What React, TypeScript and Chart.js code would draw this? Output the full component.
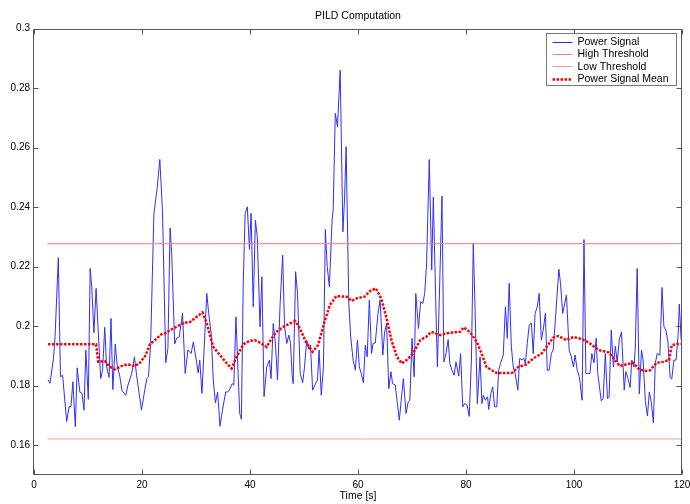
import { useEffect, useRef } from 'react';
import { Chart, registerables } from 'chart.js';

Chart.register(...registerables);

const powerTimes = [
  2.6, 2.96, 3.6, 3.9, 4.5, 4.9, 5.3, 6.05, 6.5, 6.85, 7.2, 7.65, 8.0, 8.5, 8.9, 9.26, 9.6, 10.06, 10.4, 10.7,
  11.1, 11.5, 11.85, 12.35, 12.7, 13.1, 13.45, 13.9, 14.26, 14.6, 15.05, 15.4, 15.9, 16.3, 17.0, 17.4, 18.1, 18.6, 19.0, 19.9,
  20.55, 20.9, 21.2, 21.6, 22.2, 22.8, 23.3, 23.8, 24.4, 24.8, 25.2, 25.5, 26.05, 26.4, 26.9, 27.5, 28.0, 28.5, 29.1, 29.5,
  30.1, 30.4, 30.7, 31.1, 32.0, 32.35, 32.8, 33.2, 33.6, 34.0, 34.45, 34.9, 35.5, 35.9, 36.3, 36.7, 37.0, 37.4, 37.8, 38.1,
  38.4, 38.75, 39.1, 39.5, 39.9, 40.2, 40.6, 41.0, 41.35, 41.85, 42.2, 42.6, 43.1, 43.6, 43.9, 44.3, 44.7, 45.1, 45.55, 46.05,
  46.4, 46.8, 47.2, 47.5, 47.8, 48.0, 48.45, 48.8, 49.3, 49.75, 50.1, 50.5, 50.9, 51.2, 51.6, 52.0, 52.5, 52.8, 53.2, 53.6,
  53.95, 54.3, 54.7, 55.2, 55.4, 55.8, 56.2, 56.7, 57.2, 57.5, 57.8, 58.3, 58.65, 59.1, 59.5, 59.9, 60.25, 60.6, 61.0, 61.35,
  61.7, 62.1, 62.5, 62.8, 63.2, 63.7, 64.1, 64.6, 64.9, 65.3, 65.7, 66.1, 66.4, 66.9, 67.3, 67.65, 68.0, 68.4, 68.9, 69.3,
  69.6, 70.0, 70.4, 70.7, 71.2, 71.6, 72.0, 72.35, 72.7, 73.2, 73.65, 73.95, 74.3, 74.7, 75.05, 75.55, 75.9, 76.3, 76.7, 77.0,
  77.4, 77.8, 78.15, 78.65, 79.0, 79.4, 79.75, 80.2, 80.6, 81.0, 81.35, 81.7, 82.1, 82.6, 82.95, 83.2, 83.6, 84.0, 84.2, 84.6,
  84.95, 85.3, 85.7, 86.05, 86.4, 86.9, 87.3, 87.65, 88.0, 88.4, 88.75, 89.1, 89.6, 89.95, 90.4, 90.7, 91.0, 91.35, 91.7, 92.1,
  92.45, 92.8, 93.2, 93.55, 93.95, 94.3, 94.7, 95.05, 95.4, 95.8, 96.15, 96.8, 97.2, 97.5, 97.9, 98.6, 99.1, 99.5, 99.9, 100.2,
  100.6, 101.0, 101.5, 101.85, 102.2, 102.6, 102.95, 103.3, 103.7, 104.1, 104.4, 105.05, 105.4, 105.8, 106.2, 106.5, 106.9, 107.3, 107.65, 108.0,
  108.4, 108.8, 109.3, 109.6, 110.0, 110.4, 110.7, 111.1, 111.35, 111.7, 112.1, 112.5, 112.8, 113.2, 113.6, 113.95, 114.3, 114.7, 115.05, 115.4,
  115.9, 116.3, 116.65, 117.0, 117.4, 117.8, 118.1, 118.5, 118.9, 119.3, 119.5, 119.85,
];

const powerValues = [
  0.182, 0.1808, 0.189, 0.1964, 0.223, 0.183, 0.1835, 0.168, 0.1729, 0.173, 0.1813, 0.1662, 0.186, 0.1778, 0.1774, 0.1718, 0.192, 0.1754, 0.2194, 0.2132,
  0.1978, 0.2127, 0.1998, 0.1824, 0.1852, 0.1996, 0.1863, 0.1828, 0.2026, 0.1787, 0.194, 0.1869, 0.183, 0.1783, 0.1768, 0.1802, 0.1841, 0.1897, 0.1835, 0.1718,
  0.179, 0.1824, 0.183, 0.1942, 0.2377, 0.2463, 0.256, 0.2384, 0.1877, 0.1925, 0.233, 0.2245, 0.194, 0.1959, 0.1964, 0.2043, 0.1841, 0.192, 0.1908, 0.1947,
  0.188, 0.1843, 0.1886, 0.1774, 0.211, 0.2043, 0.1976, 0.1819, 0.1742, 0.1779, 0.1664, 0.1718, 0.1779, 0.1779, 0.179, 0.1807, 0.1802, 0.2031, 0.1841, 0.1707,
  0.1687, 0.2144, 0.2379, 0.2401, 0.2258, 0.2379, 0.2065, 0.2356, 0.23, 0.1998, 0.2166, 0.1763, 0.1863, 0.1886, 0.1824, 0.2009, 0.1942, 0.1819, 0.2065, 0.2239,
  0.1998, 0.1942, 0.197, 0.1942, 0.1835, 0.1807, 0.2183, 0.211, 0.1841, 0.181, 0.1863, 0.1953, 0.1922, 0.1936, 0.1785, 0.1802, 0.1819, 0.192, 0.1768, 0.1863,
  0.2325, 0.22, 0.2132, 0.2356, 0.239, 0.2715, 0.267, 0.286, 0.2317, 0.2424, 0.2603, 0.2076, 0.1964, 0.1886, 0.1852, 0.1953, 0.1863, 0.1841, 0.181, 0.1936,
  0.1897, 0.2088, 0.1908, 0.1942, 0.1944, 0.2043, 0.2088, 0.1903, 0.1976, 0.2009, 0.179, 0.1847, 0.1807, 0.1802, 0.174, 0.1684, 0.1751, 0.1824, 0.1707, 0.1746,
  0.1751, 0.1959, 0.183, 0.211, 0.1992, 0.2082, 0.2076, 0.211, 0.2211, 0.256, 0.2189, 0.2433, 0.2155, 0.1863, 0.2088, 0.2437, 0.188, 0.1908, 0.1955, 0.1875,
  0.1852, 0.1835, 0.188, 0.1832, 0.1908, 0.1729, 0.174, 0.1735, 0.1697, 0.1886, 0.2278, 0.2043, 0.174, 0.1897, 0.174, 0.1768, 0.1751, 0.1763, 0.172, 0.1774,
  0.1796, 0.1729, 0.1729, 0.1852, 0.1875, 0.1903, 0.2065, 0.1959, 0.2144, 0.193, 0.1863, 0.1841, 0.1785, 0.1892, 0.1886, 0.1892, 0.1875, 0.1942, 0.2003, 0.2011,
  0.1908, 0.2043, 0.2065, 0.211, 0.1953, 0.1987, 0.2043, 0.1852, 0.1852, 0.1908, 0.192, 0.2088, 0.2191, 0.2144, 0.2043, 0.2105, 0.192, 0.1897, 0.1863, 0.1903,
  0.1852, 0.183, 0.1751, 0.2291, 0.1841, 0.1841, 0.1841, 0.1908, 0.1877, 0.1959, 0.1841, 0.1749, 0.1757, 0.1908, 0.1757, 0.1763, 0.1987, 0.1863, 0.1933, 0.188,
  0.1955, 0.1981, 0.1785, 0.1847, 0.1824, 0.1794, 0.1886, 0.1863, 0.193, 0.2194, 0.1772, 0.192, 0.1886, 0.1751, 0.1698, 0.1779, 0.1746, 0.1675, 0.1875, 0.1908,
  0.1903, 0.213, 0.1998, 0.1987, 0.1947, 0.1828, 0.1822, 0.1886, 0.1886, 0.1976, 0.2074, 0.1953,
];

const meanTimes = [
  2.6, 11.5, 11.9, 13.1, 14.1, 15.0, 16.2, 17.3, 18.7, 19.6, 20.6, 21.5, 22.4, 23.5, 24.3, 25.2, 25.8, 27.7, 28.9, 30.1,
  31.2, 32.0, 33.2, 34.7, 35.7, 36.6, 37.5, 38.8, 40.0, 40.9, 41.9, 43.1, 44.0, 44.9, 46.2, 47.4, 48.4, 49.3, 50.5, 51.6,
  52.6, 53.7, 54.8, 56.0, 57.9, 58.8, 60.0, 61.2, 62.3, 63.3, 64.3, 65.3, 66.2, 67.2, 68.1, 69.0, 70.2, 71.5, 72.6, 73.6,
  75.2, 77.0, 78.9, 79.6, 80.7, 82.0, 82.9, 83.8, 84.8, 85.7, 86.9, 88.5, 89.7, 91.2, 92.5, 94.0, 94.9, 96.2, 97.1, 98.6,
  99.9, 101.7, 102.95, 104.5, 106.4, 107.6, 108.5, 109.75, 111.0, 111.9, 113.1, 114.1, 115.3, 116.5, 117.6, 118.1, 119.0, 120.0,
];

const meanValues = [
  0.1939, 0.1939, 0.188, 0.1883, 0.1863, 0.1855, 0.1866, 0.1872, 0.1866, 0.1877, 0.19, 0.194, 0.1953, 0.1972, 0.1976, 0.1987, 0.1992, 0.2011, 0.2014, 0.2031,
  0.2046, 0.2009, 0.193, 0.1897, 0.1875, 0.1858, 0.1897, 0.194, 0.1951, 0.1953, 0.1944, 0.193, 0.1959, 0.1981, 0.1998, 0.2009, 0.2017, 0.1989, 0.1942, 0.1914,
  0.1936, 0.2009, 0.2071, 0.2101, 0.2099, 0.2085, 0.2095, 0.2099, 0.2119, 0.2127, 0.2093, 0.2026, 0.1953, 0.1897, 0.1875, 0.1886, 0.1908, 0.1953, 0.1964, 0.1981,
  0.197, 0.1978, 0.1981, 0.1996, 0.1981, 0.1947, 0.1908, 0.1863, 0.1852, 0.1843, 0.1843, 0.1843, 0.1863, 0.1872, 0.1892, 0.1908, 0.193, 0.1962, 0.1967, 0.1953,
  0.1964, 0.1955, 0.1942, 0.192, 0.1912, 0.1886, 0.1866, 0.1872, 0.1877, 0.1858, 0.1849, 0.1852, 0.1877, 0.188, 0.1886, 0.1936, 0.194, 0.194,
];

const thresholdTimes = [2.5, 120];
const highThresholdValue = 0.2277;
const lowThresholdValue = 0.1621;

const xTickValues = [0, 20, 40, 60, 80, 100, 120];
const xTickLabels = ['0', '20', '40', '60', '80', '100', '120'];
const yTickValues = [0.16, 0.18, 0.2, 0.22, 0.24, 0.26, 0.28, 0.3];
const yTickLabels = ['0.16', '0.18', '0.2', '0.22', '0.24', '0.26', '0.28', '0.3'];

const seriesLabels = ['Power Signal', 'High Threshold', 'Low Threshold', 'Power Signal Mean'];
const chartTitle = 'PILD Computation';
const xAxisTitle = 'Time [s]';

const FONT = "'Liberation Sans', Arial, Helvetica, sans-serif";
const COLORS = {
  power: '#2f2fff',
  high: '#ff7a7a',
  low: '#ff9a9a',
  mean: '#ff0000',
  frame: '#555555',
};

const framePlugin = {
  id: 'matlabFrame',
  afterDatasetsDraw(chart: any) {
    const { ctx, chartArea: a, scales } = chart;
    const L = Math.round(a.left) - 0.5;
    const R = Math.round(a.right) - 0.5;
    const T = Math.round(a.top) + 0.5;
    const B = Math.round(a.bottom) - 0.5;
    ctx.save();
    ctx.strokeStyle = COLORS.frame;
    ctx.lineWidth = 1;
    ctx.beginPath();
    ctx.rect(L, T, R - L, B - T);
    const tl = 5;
    for (const v of yTickValues) {
      const y = Math.round(scales.y.getPixelForValue(v)) + 0.5;
      ctx.moveTo(L, y);
      ctx.lineTo(L + tl, y);
      ctx.moveTo(R, y);
      ctx.lineTo(R - tl, y);
    }
    for (const v of xTickValues) {
      const x = Math.round(scales.x.getPixelForValue(v)) + 0.5;
      ctx.moveTo(x, T);
      ctx.lineTo(x, T + tl);
      ctx.moveTo(x, B);
      ctx.lineTo(x, B - tl);
    }
    ctx.stroke();
    ctx.restore();
  },
};

const legendPlugin = {
  id: 'matlabLegend',
  afterDraw(chart: any) {
    const { ctx, chartArea: a } = chart;
    const w = 130;
    const h = 52;
    const left = Math.round(a.right - 6 - w) + 0.5;
    const top = Math.round(a.top + 4) + 0.5;
    ctx.save();
    ctx.fillStyle = '#ffffff';
    ctx.fillRect(left, top, w, h);
    ctx.strokeStyle = '#777777';
    ctx.lineWidth = 1;
    ctx.strokeRect(left, top, w, h);
    ctx.font = `10.5px ${FONT}`;
    ctx.textBaseline = 'middle';
    ctx.textAlign = 'left';
    const datasets = chart.data.datasets;
    const rowOrder = [0, 1, 2, 3];
    rowOrder.forEach((di, i) => {
      const ds = datasets[di];
      const cy = top + 8 + i * 12.4;
      ctx.save();
      ctx.strokeStyle = ds.borderColor;
      ctx.lineWidth = ds.borderWidth;
      ctx.setLineDash(ds.borderDash || []);
      ctx.beginPath();
      ctx.moveTo(left + 6, Math.round(cy) + 0.5);
      ctx.lineTo(left + 26, Math.round(cy) + 0.5);
      ctx.stroke();
      ctx.restore();
      ctx.fillStyle = '#000000';
      ctx.fillText(ds.label, left + 31, cy + 0.5);
    });
    ctx.restore();
  },
};

export default function App() {
  const canvasRef = useRef<HTMLCanvasElement | null>(null);

  useEffect(() => {
    const canvas = canvasRef.current;
    if (!canvas) return;
    const powerData = powerTimes.map((t, i) => ({ x: t, y: powerValues[i] }));
    const meanData = meanTimes.map((t, i) => ({ x: t, y: meanValues[i] }));
    const highData = thresholdTimes.map((t) => ({ x: t, y: highThresholdValue }));
    const lowData = thresholdTimes.map((t) => ({ x: t, y: lowThresholdValue }));

    const chart = new Chart(canvas, {
      type: 'line',
      data: {
        datasets: [
          {
            label: seriesLabels[0],
            data: powerData,
            borderColor: COLORS.power,
            borderWidth: 1,
            pointRadius: 0,
            tension: 0,
            order: 3,
          },
          {
            label: seriesLabels[1],
            data: highData,
            borderColor: COLORS.high,
            borderWidth: 1,
            pointRadius: 0,
            order: 2,
          },
          {
            label: seriesLabels[2],
            data: lowData,
            borderColor: COLORS.low,
            borderWidth: 1,
            pointRadius: 0,
            order: 1,
          },
          {
            label: seriesLabels[3],
            data: meanData,
            borderColor: COLORS.mean,
            borderWidth: 2.5,
            borderDash: [2.5, 1.5],
            pointRadius: 0,
            tension: 0,
            order: 0,
          },
        ],
      },
      options: {
        animation: false,
        responsive: false,
        devicePixelRatio: 1,
        parsing: false,
        normalized: true,
        layout: { padding: { left: 0, right: 8, top: 0, bottom: 0 } },
        plugins: {
          legend: { display: false },
          tooltip: { enabled: false },
          title: {
            display: true,
            fullSize: false,
            text: chartTitle,
            color: '#000000',
            font: { family: FONT, size: 10.5, weight: 'normal', lineHeight: 1.2 },
            padding: { top: 9.6, bottom: 6.3 },
          },
        },
        scales: {
          x: {
            type: 'linear',
            min: 0,
            max: 120,
            grid: { display: false, drawTicks: false },
            border: { display: false },
            afterBuildTicks: (scale: any) => {
              scale.ticks = xTickValues.map((v) => ({ value: v }));
            },
            afterFit: (scale: any) => {
              scale.height = 29;
              scale.paddingLeft = 0;
              scale.paddingRight = 0;
            },
            ticks: {
              color: '#000000',
              font: { family: FONT, size: 10 },
              padding: 4,
              maxRotation: 0,
              autoSkip: false,
              callback: (_v: any, i: number) => xTickLabels[i],
            },
            title: {
              display: true,
              text: xAxisTitle,
              color: '#000000',
              font: { family: FONT, size: 10.5 },
              padding: { top: 0, bottom: 2 },
            },
          },
          y: {
            type: 'linear',
            min: 0.15,
            max: 0.3,
            grid: { display: false, drawTicks: false },
            border: { display: false },
            afterBuildTicks: (scale: any) => {
              scale.ticks = yTickValues.map((v) => ({ value: v }));
            },
            afterFit: (scale: any) => {
              scale.width = 34;
              scale.paddingTop = 0;
              scale.paddingBottom = 0;
            },
            ticks: {
              color: '#000000',
              font: { family: FONT, size: 10 },
              padding: 4,
              autoSkip: false,
              callback: (_v: any, i: number) => yTickLabels[i],
            },
          },
        },
      },
      plugins: [framePlugin, legendPlugin],
    } as any);

    return () => {
      chart.destroy();
    };
  }, []);

  return (
    <div style={{ position: 'fixed', left: 0, top: 0, width: 690, height: 504, background: '#ffffff' }}>
      <canvas ref={canvasRef} width={690} height={504} style={{ display: 'block', width: 690, height: 504 }} />
    </div>
  );
}
